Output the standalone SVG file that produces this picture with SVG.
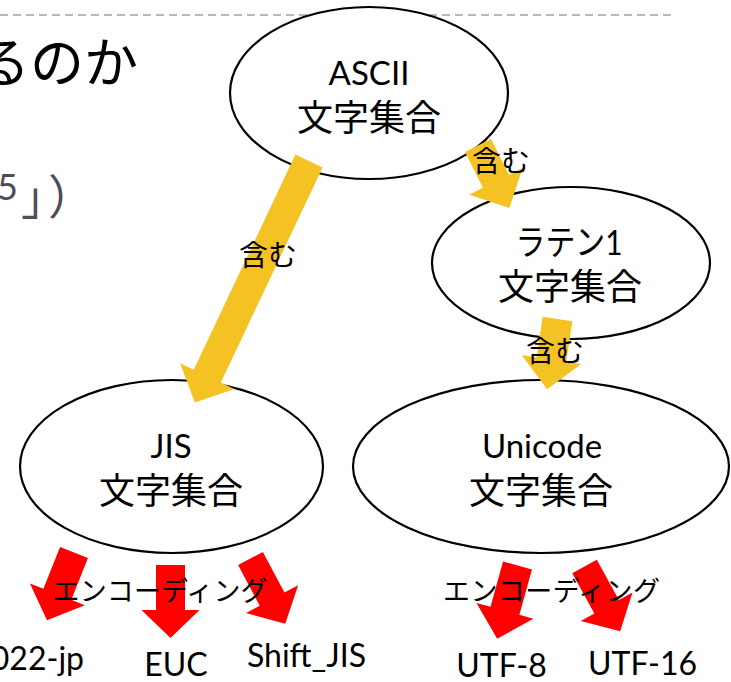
<svg xmlns="http://www.w3.org/2000/svg" width="731" height="682" viewBox="0 0 731 682">
<style>
.node ellipse{fill:#fff;stroke:#000;stroke-width:2.2}
.lat{font-family:Lato,"Noto Sans CJK JP",sans-serif;fill:#000}
.jp{font-family:"Noto Sans CJK JP",sans-serif;fill:#000}
.ya{fill:#F5C223}
.ra{fill:#FF0000}
</style>
<rect width="731" height="682" fill="#fff"/>
<line x1="0" y1="15" x2="672" y2="15" stroke="#A9BCCC" stroke-width="2" stroke-dasharray="8 5"/>
<g id="background-text">
<text class="jp" x="-24" y="83" font-size="54">るのか</text>
<text y="200" fill="#4D4D5C"><tspan x="-3" font-family="Lato,sans-serif" font-size="36">5</tspan><tspan x="21" y="214" font-family="Noto Sans CJK JP,sans-serif" font-size="46">」</tspan><tspan x="48" y="214" font-family="Noto Sans CJK JP,sans-serif" font-size="47">）</tspan></text>
</g>
<g id="node-ascii" class="node">
<ellipse cx="369" cy="93" rx="139" ry="86"/>
<text class="lat" x="369" y="85" font-size="33" text-anchor="middle">ASCII</text>
<text class="jp" x="369" y="131" font-size="36" text-anchor="middle">文字集合</text>
</g>
<g id="node-latin1" class="node">
<ellipse cx="571" cy="263" rx="139" ry="76"/>
<text class="lat" x="569" y="255" font-size="35" text-anchor="middle" textLength="107" lengthAdjust="spacingAndGlyphs">ラテン1</text>
<text class="jp" x="570" y="300" font-size="36" text-anchor="middle">文字集合</text>
</g>
<g id="node-jis" class="node">
<ellipse cx="171.5" cy="466.5" rx="151.5" ry="86.5"/>
<text class="lat" x="171" y="458" font-size="33" text-anchor="middle">JIS</text>
<text class="jp" x="171" y="504" font-size="36" text-anchor="middle">文字集合</text>
</g>
<g id="node-unicode" class="node">
<ellipse cx="541" cy="466.5" rx="188" ry="86.5"/>
<text class="lat" x="542" y="458" font-size="33" text-anchor="middle">Unicode</text>
<text class="jp" x="541" y="504" font-size="36" text-anchor="middle">文字集合</text>
</g>
<g id="connectors">
<polygon class="ya" transform="translate(309,161) rotate(25.3)" points="-15,0 15,0 15,238 30,238 0,267 -30,238 -15,238"/>
<polygon class="ya" transform="translate(478,145.5) rotate(-26.6)" points="-14.5,0 14.5,0 14.5,40 30,40 0,70 -30,40 -14.5,40"/>
<polygon class="ya" transform="translate(557.5,319) rotate(8.4)" points="-15,0 15,0 15,41 30,41 0,71 -30,41 -15,41"/>
<polygon class="ra" transform="translate(74,552.5) rotate(21.7)" points="-15,0 15,0 15,45 29.5,45 0,73 -29.5,45 -15,45"/>
<polygon class="ra" transform="translate(170.5,565)" points="-14.5,0 14.5,0 14.5,45 29,45 0,73 -29,45 -14.5,45"/>
<polygon class="ra" transform="translate(250.5,558.5) rotate(-28)" points="-14,0 14,0 14,46 29.5,46 0,74 -29.5,46 -14,46"/>
<polygon class="ra" transform="translate(517.5,565.5) rotate(15.5)" points="-15,0 15,0 15,47 29.5,47 0,76 -29.5,47 -15,47"/>
<polygon class="ra" transform="translate(584.5,566.5) rotate(-28.8)" points="-14,0 14,0 14,46 29.5,46 0,74 -29.5,46 -14,46"/>
<text class="jp" x="268" y="266" font-size="29" text-anchor="middle">含む</text>
<text class="jp" x="501" y="172" font-size="29" text-anchor="middle">含む</text>
<text class="jp" x="555" y="362" font-size="29" text-anchor="middle">含む</text>
<text class="jp" x="160" y="601" font-size="27" text-anchor="middle" textLength="215">エンコーディング</text>
<text class="jp" x="551.5" y="601" font-size="27" text-anchor="middle" textLength="217">エンコーディング</text>
</g>
<g id="outputs">
<text class="lat" x="84" y="670" font-size="32" text-anchor="end">022-jp</text>
<text class="lat" x="176" y="676" font-size="32" text-anchor="middle">EUC</text>
<text class="lat" x="247" y="667" font-size="32">Shift_JIS</text>
<text class="lat" x="501.5" y="677" font-size="32" text-anchor="middle">UTF-8</text>
<text class="lat" x="642.5" y="675" font-size="32" text-anchor="middle">UTF-16</text>
</g>
</svg>
